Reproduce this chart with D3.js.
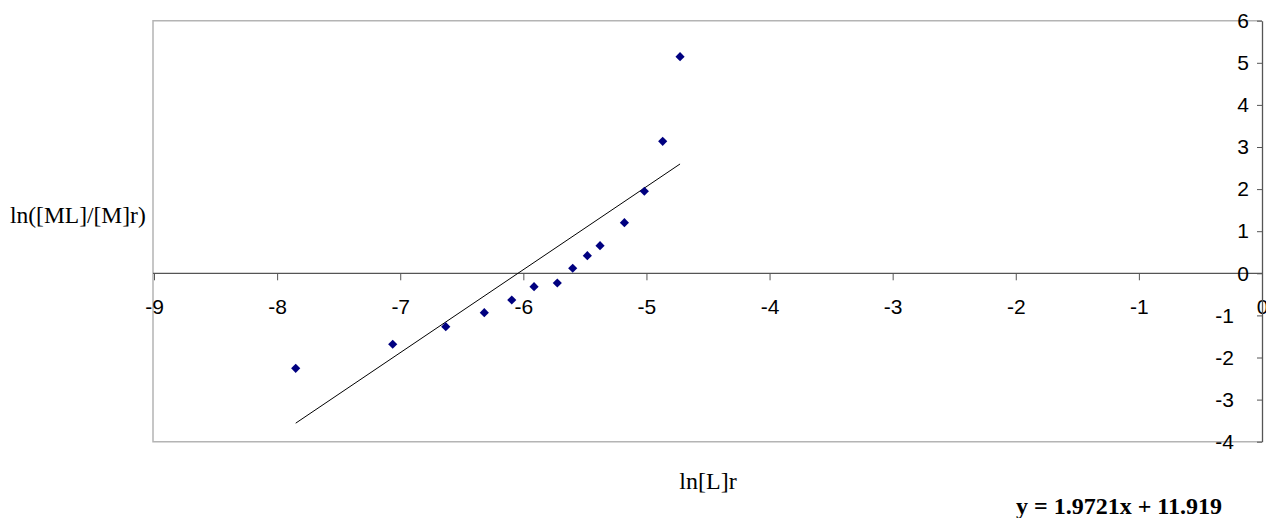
<!DOCTYPE html>
<html>
<head>
<meta charset="utf-8">
<script src="https://cdn.jsdelivr.net/npm/d3@7"></script>
<style>
  body { margin: 0; background: #fff; }
  svg { display: block; }
</style>
</head>
<body>
<div id="chart"></div>
<script>
// data
const lnL = [-7.849, -7.061, -6.630, -6.317, -6.094, -5.913, -5.724, -5.599, -5.480, -5.377, -5.179, -5.017, -4.868, -4.727];
const lnRatio = [-2.257, -1.686, -1.268, -0.936, -0.634, -0.318, -0.230, 0.119, 0.418, 0.656, 1.202, 1.948, 3.135, 5.145];
const xTicks = [-9, -8, -7, -6, -5, -4, -3, -2, -1, 0];
const yTicks = [-4, -3, -2, -1, 0, 1, 2, 3, 4, 5, 6];
const slope = 1.9721;
const intercept = 11.919;

const width = 1266, height = 518;
const plotLeft = 154, plotRight = 1262, plotTop = 20.7, plotBottom = 441.7;

const svg = d3.select("#chart").append("svg")
  .attr("width", width)
  .attr("height", height);

const x = d3.scaleLinear().domain([-9, 0]).range([plotLeft, plotRight]);
const y = d3.scaleLinear().domain([-4, 6]).range([plotBottom, plotTop]);

// plain hyphen for negatives, like the original
const fmt = d => String(d);

// plot area border (grey)
svg.append("path")
  .attr("d", `M${plotRight},${plotTop}H${plotLeft - 1}V${plotBottom}H${plotRight}`)
  .attr("fill", "none")
  .attr("stroke", "#b4b4b4")
  .attr("stroke-width", 1.5);

// x axis at y = 0
const xAxis = svg.append("g")
  .attr("transform", `translate(0,${y(0)})`)
  .call(d3.axisBottom(x).tickValues(xTicks).tickSize(7).tickSizeOuter(0).tickFormat(fmt));
xAxis.select(".domain").attr("stroke", "#555").attr("stroke-width", 1.3)
  .attr("d", `M${plotLeft - 1},0H${plotRight}`);
xAxis.selectAll(".tick line").attr("stroke", "#555");
xAxis.selectAll(".tick text")
  .attr("y", 41).attr("dy", 0)
  .attr("fill", "#000")
  .style("font-family", "'Liberation Sans', Arial, sans-serif")
  .style("font-size", "21px");

// y axis on the right at x = 0
const yAxis = svg.append("g")
  .attr("transform", `translate(${x(0)},0)`)
  .call(d3.axisLeft(y).tickValues(yTicks).tickSize(5).tickSizeOuter(0).tickFormat(fmt));
yAxis.select(".domain").attr("stroke", "#555").attr("stroke-width", 1.3);
yAxis.selectAll(".tick line").attr("stroke", "#555");
yAxis.selectAll(".tick text")
  .attr("x", d => d < 0 ? -28 : -13)
  .attr("fill", "#000")
  .style("font-family", "'Liberation Sans', Arial, sans-serif")
  .style("font-size", "21px");

// trend line
const xr = d3.extent(lnL);
svg.append("line")
  .attr("x1", x(xr[0])).attr("y1", y(slope * xr[0] + intercept))
  .attr("x2", x(xr[1])).attr("y2", y(slope * xr[1] + intercept))
  .attr("stroke", "#000")
  .attr("stroke-width", 1);

// points
const diamond = d3.symbol(d3.symbolSquare, 42);
svg.append("g").selectAll("path")
  .data(lnL.map((v, i) => [v, lnRatio[i]]))
  .join("path")
  .attr("d", diamond)
  .attr("transform", d => `translate(${x(d[0])},${y(d[1])}) rotate(45)`)
  .attr("fill", "#000080");

// titles
svg.append("text")
  .attr("x", 10).attr("y", 223)
  .style("font-family", "'Liberation Serif', 'Times New Roman', serif")
  .style("font-size", "23.5px")
  .text("ln([ML]/[M]r)");

svg.append("text")
  .attr("x", (plotLeft + plotRight) / 2).attr("y", 489)
  .attr("text-anchor", "middle")
  .style("font-family", "'Liberation Serif', 'Times New Roman', serif")
  .style("font-size", "24px")
  .text("ln[L]r");

svg.append("text")
  .attr("x", 1222).attr("y", 514)
  .attr("text-anchor", "end")
  .style("font-family", "'Liberation Serif', 'Times New Roman', serif")
  .style("font-size", "24px")
  .style("font-weight", "bold")
  .text(`y = ${slope}x + ${intercept}`);
</script>
</body>
</html>
